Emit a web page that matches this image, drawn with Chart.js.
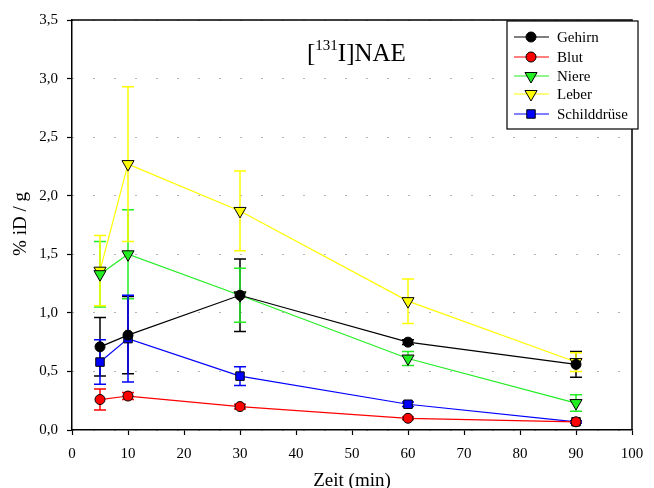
<!DOCTYPE html>
<html>
<head>
<meta charset="utf-8">
<script src="https://cdn.jsdelivr.net/npm/chart.js@4/dist/chart.umd.min.js"></script>
<style>
  html, body { margin: 0; padding: 0; background: #fff; }
  #wrap { width: 654px; height: 488px; position: relative; }
</style>
</head>
<body>
<div id="wrap"><canvas id="chart" width="654" height="488"></canvas></div>
<script>
'use strict';
// time points (min) and measured values (% iD / g) with standard deviations
const times = [5, 10, 30, 60, 90];
const gehirn = [0.71, 0.81, 1.15, 0.75, 0.56];
const gehirnErr = [0.25, 0.33, 0.31, 0.02, 0.11];
const blut = [0.26, 0.29, 0.20, 0.10, 0.07];
const blutErr = [0.09, 0.03, 0.02, 0.01, 0.01];
const niere = [1.33, 1.50, 1.15, 0.61, 0.23];
const niereErr = [0.28, 0.38, 0.23, 0.06, 0.07];
const leber = [1.36, 2.27, 1.87, 1.10, 0.58];
const leberErr = [0.30, 0.66, 0.34, 0.19, 0.08];
const schild = [0.58, 0.78, 0.46, 0.22, 0.07];
const schildErr = [0.19, 0.37, 0.08, 0.02, 0.01];
const xTicks = [0, 10, 20, 30, 40, 50, 60, 70, 80, 90, 100];
const yTicks = [0, 0.5, 1, 1.5, 2, 2.5, 3, 3.5];

const serif = '"Liberation Serif", "Times New Roman", serif';

function makeSet(label, values, errs, color, style, rotation, radius) {
  return {
    label: label,
    data: times.map((t, i) => ({x: t, y: values[i], err: errs[i]})),
    borderColor: color,
    backgroundColor: color,
    borderWidth: 1.2,
    pointStyle: style,
    rotation: rotation || 0,
    pointRadius: radius,
    pointBorderColor: '#000',
    pointBorderWidth: 1,
    pointBackgroundColor: color,
    tension: 0
  };
}

// error bars drawn under the markers, using the chart scales
const errorBars = {
  id: 'errorBars',
  beforeDatasetsDraw(chart) {
    const ctx = chart.ctx;
    const xs = chart.scales.x, ys = chart.scales.y;
    chart.data.datasets.forEach(ds => {
      ctx.save();
      ctx.strokeStyle = ds.borderColor;
      ctx.lineWidth = 1.5;
      ds.data.forEach(p => {
        const px = xs.getPixelForValue(p.x);
        const top = ys.getPixelForValue(p.y + p.err);
        const bot = ys.getPixelForValue(p.y - p.err);
        ctx.beginPath();
        ctx.moveTo(px, top); ctx.lineTo(px, bot);
        ctx.moveTo(px - 6, top); ctx.lineTo(px + 6, top);
        ctx.moveTo(px - 6, bot); ctx.lineTo(px + 6, bot);
        ctx.stroke();
      });
      ctx.restore();
    });
  }
};

// frame, titles, legend box
const decor = {
  id: 'decor',
  afterDraw(chart) {
    const ctx = chart.ctx;
    const a = chart.chartArea;
    ctx.save();
    ctx.strokeStyle = '#000';
    ctx.lineWidth = 1.5;
    ctx.beginPath();
    ctx.moveTo(a.left, a.top); ctx.lineTo(a.right, a.top); ctx.lineTo(a.right, a.bottom);
    ctx.stroke();

    // title [131I]NAE
    ctx.fillStyle = '#000';
    ctx.textBaseline = 'alphabetic';
    ctx.textAlign = 'left';
    let x = 307, y = 61;
    ctx.font = '25px ' + serif;
    ctx.fillText('[', x, y); x += ctx.measureText('[').width;
    ctx.font = '15px ' + serif;
    ctx.fillText('131', x, y - 11); x += ctx.measureText('131').width;
    ctx.font = '25px ' + serif;
    ctx.fillText('I]NAE', x, y);

    // axis titles
    ctx.font = '19px ' + serif;
    ctx.textAlign = 'center';
    ctx.fillText('Zeit (min)', (a.left + a.right) / 2, 486);
    ctx.save();
    ctx.translate(26, 224);
    ctx.rotate(-Math.PI / 2);
    ctx.fillText('% iD / g', 0, 0);
    ctx.restore();

    // legend
    ctx.textAlign = 'left';
    const lx = 507, ly = 21, lw = 131, lh = 108;
    ctx.fillStyle = '#fff';
    ctx.fillRect(lx, ly, lw, lh);
    ctx.lineWidth = 1.2;
    ctx.strokeStyle = '#000';
    ctx.strokeRect(lx, ly, lw, lh);
    const rows = [37, 57, 76, 94, 114];
    chart.data.datasets.forEach((ds, i) => {
      const ry = rows[i];
      ctx.strokeStyle = ds.borderColor;
      ctx.lineWidth = 1.2;
      ctx.beginPath(); ctx.moveTo(514, ry); ctx.lineTo(549, ry); ctx.stroke();
      ctx.fillStyle = ds.backgroundColor;
      ctx.strokeStyle = '#000';
      ctx.lineWidth = 1;
      Chart.helpers.drawPoint(ctx, {pointStyle: ds.pointStyle, rotation: ds.rotation, radius: ds.pointRadius, borderWidth: 1}, 531, ry);
      ctx.fillStyle = '#000';
      ctx.font = '15px ' + serif;
      ctx.textBaseline = 'middle';
      ctx.fillText(ds.label, 557, ry + 1);
    });
    ctx.restore();
  }
};

new Chart(document.getElementById('chart').getContext('2d'), {
  type: 'line',
  data: {
    datasets: [
      makeSet('Gehirn', gehirn, gehirnErr, '#000000', 'circle', 0, 5),
      makeSet('Blut', blut, blutErr, '#ff0000', 'circle', 0, 5),
      makeSet('Niere', niere, niereErr, '#22ee22', 'triangle', 180, 7),
      makeSet('Leber', leber, leberErr, '#ffff00', 'triangle', 180, 7),
      makeSet('Schilddrüse', schild, schildErr, '#0000ff', 'rect', 0, 6)
    ]
  },
  options: {
    responsive: false,
    animation: false,
    layout: {padding: {top: 20, right: 22, left: 0, bottom: 0}},
    plugins: {legend: {display: false}, tooltip: {enabled: false}},
    scales: {
      x: {
        type: 'linear', min: 0, max: 100,
        afterBuildTicks: s => { s.ticks = xTicks.map(v => ({value: v})); },
        afterFit: s => { s.height = 58; },
        grid: {drawOnChartArea: false, tickLength: 5, tickColor: '#000', tickWidth: 1.2},
        border: {color: '#000', width: 1.5},
        ticks: {color: '#000', font: {family: serif, size: 15}, padding: 10, maxRotation: 0, autoSkip: false}
      },
      y: {
        type: 'linear', min: 0, max: 3.5,
        afterBuildTicks: s => { s.ticks = yTicks.map(v => ({value: v})); },
        afterFit: s => { s.width = 72; },
        grid: {color: '#666', lineWidth: 1, tickBorderDash: [], tickLength: 5, tickColor: '#000', tickWidth: 1.2},
        border: {color: '#000', width: 1.5, dash: [1, 20]},
        ticks: {color: '#000', font: {family: serif, size: 15}, padding: 9, autoSkip: false,
          callback: v => v.toFixed(1).replace('.', ',')}
      }
    }
  },
  plugins: [errorBars, decor]
});
</script>
</body>
</html>
